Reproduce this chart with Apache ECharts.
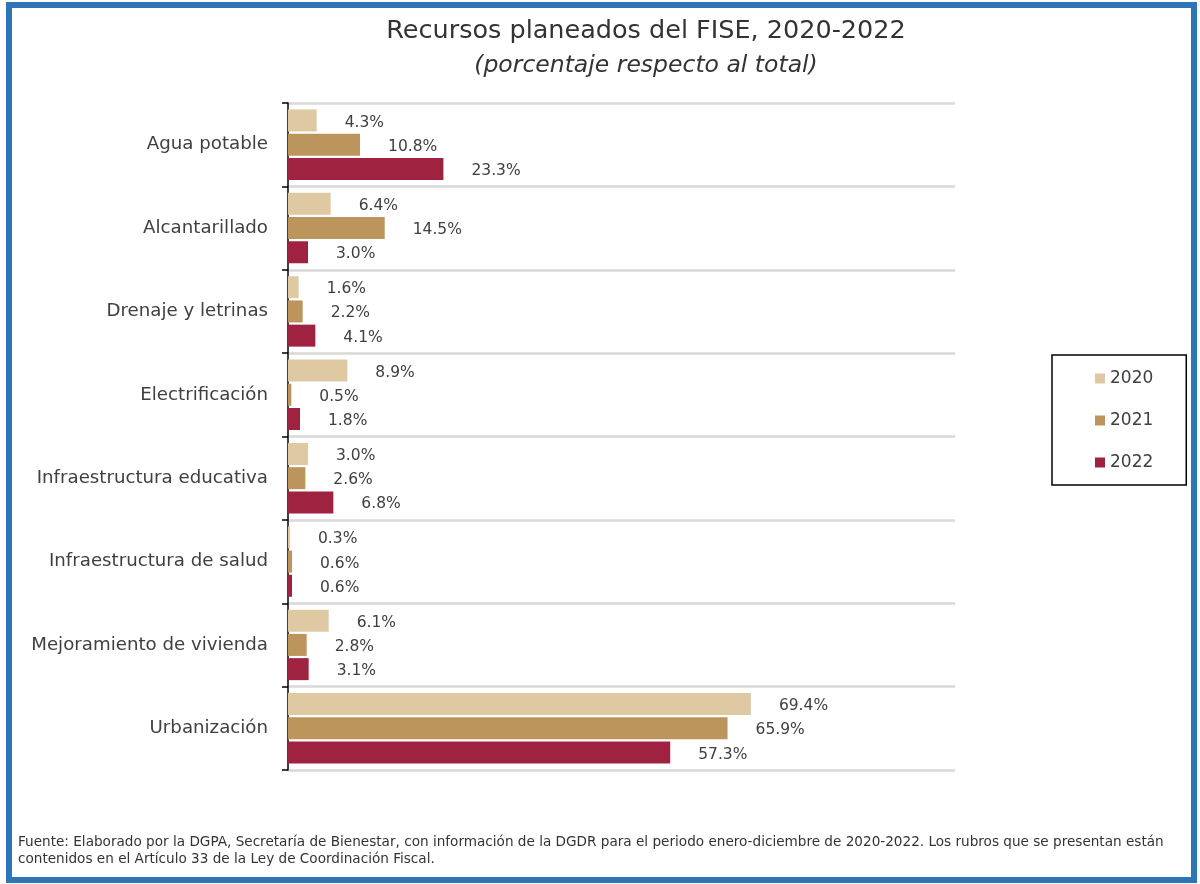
<!DOCTYPE html>
<html>
<head>
<meta charset="utf-8">
<script src="https://cdn.jsdelivr.net/npm/echarts@6/dist/echarts.min.js"></script>
<style>
html,body{margin:0;padding:0;background:#fff;}
#chart{width:1200px;height:884px;}
</style>
</head>
<body>
<div id="chart"></div>
<script>
var categories = ['Agua potable','Alcantarillado','Drenaje y letrinas','Electrificación','Infraestructura educativa','Infraestructura de salud','Mejoramiento de vivienda','Urbanización'];
var seriesNames = ['2020','2021','2022'];
var values2020 = [4.3, 6.4, 1.6, 8.9, 3.0, 0.3, 6.1, 69.4];
var values2021 = [10.8, 14.5, 2.2, 0.5, 2.6, 0.6, 2.8, 65.9];
var values2022 = [23.3, 3.0, 4.1, 1.8, 6.8, 0.6, 3.1, 57.3];
var colors = ['#DFC9A2', '#BC955C', '#9F2241'];
var titleText = 'Recursos planeados del FISE, 2020-2022';
var subtitleText = '(porcentaje respecto al total)';
var sourceText = 'Fuente: Elaborado por la DGPA, Secretaría de Bienestar, con información de la DGDR para el periodo enero-diciembre de 2020-2022. Los rubros que se presentan están\ncontenidos en el Artículo 33 de la Ley de Coordinación Fiscal.';

var FONT = '"DejaVu Sans", sans-serif';
var chart = echarts.init(document.getElementById('chart'));
var allValues = [values2020, values2021, values2022];
var series = seriesNames.map(function(n, i){
  return {
    name: n,
    type: 'bar',
    data: allValues[i],
    barWidth: 22,
    barGap: '10%',
    itemStyle: {color: colors[i]},
    label: {
      show: true,
      position: 'right',
      distance: 28,
      offset: [0, 2],
      formatter: function(p){ return p.value.toFixed(1) + '%'; },
      color: '#404040',
      fontSize: 15.5,
      fontFamily: FONT
    }
  };
});

chart.setOption({
  backgroundColor: '#fff',
  animation: false,
  title: [
    {text: titleText, left: 641, top: 13, textAlign: 'center',
     textStyle: {fontSize: 25.5, fontWeight: 'normal', color: '#333', fontFamily: FONT}},
    {text: subtitleText, left: 641, top: 49, textAlign: 'center',
     textStyle: {fontSize: 23.5, fontWeight: 'normal', fontStyle: 'italic', color: '#333', fontFamily: FONT}}
  ],
  legend: {
    orient: 'vertical',
    left: 1052, top: 355,
    padding: [15, 33, 14, 43],
    itemGap: 25,
    itemWidth: 10, itemHeight: 10,
    icon: 'rect',
    borderColor: '#000', borderWidth: 1.5,
    textStyle: {fontSize: 17, color: '#404040', fontFamily: FONT},
    data: seriesNames
  },
  grid: {left: 288, right: 245, top: 103, bottom: 114, containLabel: false},
  xAxis: {
    type: 'value', min: 0, max: 100,
    show: false,
    splitLine: {show: false}
  },
  yAxis: {
    type: 'category',
    inverse: true,
    data: categories,
    axisLine: {show: true, lineStyle: {color: '#000', width: 1.5}},
    axisTick: {show: true, inside: false, length: 6, lineStyle: {color: '#000', width: 1.5}},
    axisLabel: {fontSize: 18.2, color: '#404040', margin: 20, fontFamily: FONT},
    splitLine: {show: true, lineStyle: {color: '#d9d9d9', width: 2.5}}
  },
  series: series,
  graphic: [
    {type: 'rect', shape: {x: 9, y: 5, width: 1185, height: 875},
     style: {fill: 'none', stroke: '#2E75B6', lineWidth: 6}, silent: true, z: 100},
    {type: 'text', left: 18, top: 834,
     style: {text: sourceText, fontSize: 13.6, lineHeight: 17, fill: '#333', fontFamily: FONT}}
  ]
});
</script>
</body>
</html>
